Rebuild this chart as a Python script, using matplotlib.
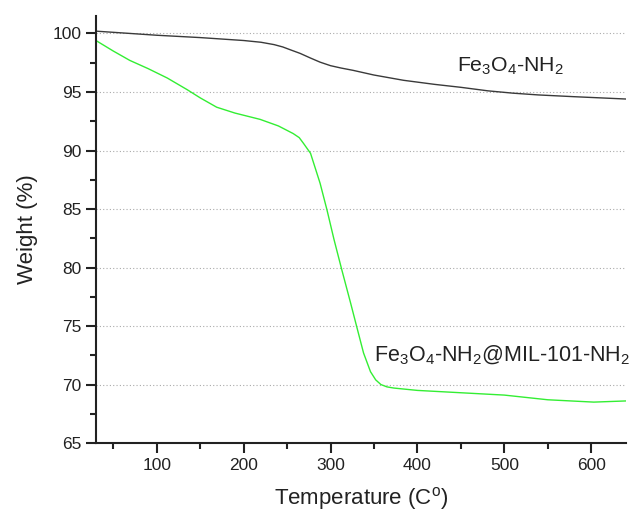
import numpy as np
import matplotlib
matplotlib.use("Agg")
import matplotlib.pyplot as plt
from matplotlib.ticker import MultipleLocator

plt.rcParams['font.family'] = ['Liberation Sans', 'DejaVu Sans']
plt.rcParams['mathtext.fontset'] = 'custom'
plt.rcParams['mathtext.rm'] = 'Liberation Sans'
plt.rcParams['mathtext.it'] = 'Liberation Sans'

# Fe3O4-NH2 (curva negra)
temp_fe = [30, 60, 100, 150, 200, 220, 235, 245, 254, 265, 277, 288, 300, 312, 326, 350, 384, 420, 450, 481, 510, 539, 580, 610, 640]
peso_fe = [100.2, 100.05, 99.85, 99.65, 99.4, 99.25, 99.05, 98.85, 98.6, 98.3, 97.9, 97.55, 97.25, 97.05, 96.85, 96.45, 96.0, 95.65, 95.4, 95.1, 94.9, 94.75, 94.6, 94.5, 94.4]

# Fe3O4-NH2@MIL-101-NH2 (curva verde)
temp_mil = [30, 50, 69, 90, 112, 135, 150, 169, 190, 219, 240, 257, 264, 269, 277, 288, 296, 304, 313, 323, 331, 338, 346, 352, 358, 365, 373, 400, 450, 500, 550, 603, 640]
peso_mil = [99.4, 98.5, 97.7, 97.0, 96.2, 95.2, 94.5, 93.7, 93.2, 92.66, 92.1, 91.45, 91.1, 90.6, 89.76, 87.2, 84.9, 82.4, 79.8, 77.0, 74.7, 72.7, 71.1, 70.4, 70.0, 69.8, 69.7, 69.5, 69.3, 69.1, 68.7, 68.5, 68.6]

# etiquetas
etiqueta_fe = r"Fe$_3$O$_4$-NH$_2$"
etiqueta_mil = r"Fe$_3$O$_4$-NH$_2$@MIL-101-NH$_2$"

fig = plt.figure(figsize=(6.31, 5.14), dpi=100)
ax = fig.add_axes([0.152, 0.138, 0.840, 0.831])

ax.plot(temp_fe, peso_fe, color="#3a3a3a", lw=1.0)
ax.plot(temp_mil, peso_mil, color="#33ee33", lw=1.0)

ax.set_xlim(30, 640)
ax.set_ylim(65, 101.5)
ax.xaxis.set_major_locator(MultipleLocator(100))
ax.xaxis.set_minor_locator(MultipleLocator(50))
ax.yaxis.set_major_locator(MultipleLocator(5))
ax.yaxis.set_minor_locator(MultipleLocator(2.5))

for s in ["top", "right"]:
    ax.spines[s].set_visible(False)
for s in ["left", "bottom"]:
    ax.spines[s].set_linewidth(1.5)
    ax.spines[s].set_color("#222222")

ax.tick_params(which="major", direction="out", length=7, width=1.5, labelsize=12.5, colors="#222222")
ax.tick_params(which="minor", direction="out", length=4, width=1.5, colors="#222222")
ax.grid(axis="y", which="major", linestyle=(0, (1, 2)), color="#aaaaaa", lw=0.8)

ax.set_xlabel("Temperature (C$^{o}$)", fontsize=16, color="#222222", labelpad=9)
ax.set_ylabel("Weight (%)", fontsize=16, color="#222222", labelpad=10)

ax.text(446, 96.72, etiqueta_fe, fontsize=15.3, color="#222222")
ax.text(350.5, 71.95, etiqueta_mil, fontsize=15.5, color="#222222")

fig.savefig("out.png", dpi=100)
